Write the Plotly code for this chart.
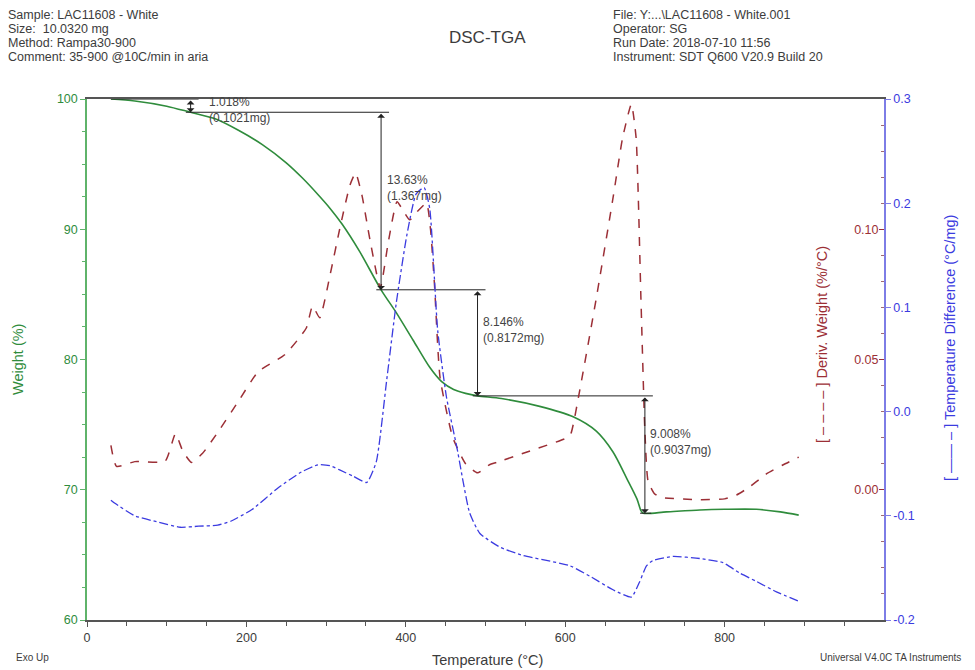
import plotly.graph_objects as go

# ---- TGA weight curve (green, left axis) ----
tga_temp = [30, 60, 100, 130, 160, 190, 220, 250, 270, 290, 305, 320, 342, 369, 388, 409,
            430, 445, 460, 475, 490, 520, 568, 610, 639, 660, 677, 690, 695, 698, 727,
            769, 800, 840, 870, 893]
tga_weight = [100.0, 99.85, 99.45, 98.98, 98.5, 97.6, 96.5, 95.1, 93.95, 92.65, 91.6, 90.4,
              88.3, 85.35, 83.6, 81.5, 79.4, 78.3, 77.7, 77.4, 77.21, 77.0, 76.4, 75.6,
              74.5, 72.9, 70.9, 69.3, 68.4, 68.2, 68.3, 68.45, 68.5, 68.5, 68.3, 68.05]

# ---- derivative weight (dark red dashed) ----
dtg_temp = [30, 37, 60, 98, 111, 120, 131, 145, 164, 190, 215, 248, 275, 283, 292, 305,
            317, 330, 337, 345, 355, 368, 378, 389, 397, 405, 415, 426, 431, 436, 443,
            459, 475, 490, 505, 514, 555, 601, 607, 618, 639, 660, 672, 683, 689, 695,
            700, 704, 712, 722, 769, 800, 815, 831, 852, 873, 893]
dtg_value = [0.0170, 0.0090, 0.0108, 0.0110, 0.0215, 0.0150, 0.0105, 0.0140, 0.0220,
             0.0340, 0.0454, 0.0518, 0.0620, 0.0705, 0.0660, 0.0825, 0.1000, 0.1170,
             0.1216, 0.1130, 0.0960, 0.0776, 0.0950, 0.1106, 0.1070, 0.1036, 0.1070,
             0.1100, 0.1000, 0.0787, 0.0430, 0.0200, 0.0100, 0.0065, 0.0096, 0.0105,
             0.0148, 0.0198, 0.0215, 0.0378, 0.0735, 0.1120, 0.1350, 0.1480, 0.1350,
             0.0735, 0.0224, 0.0033, -0.0015, -0.0030, -0.0038, -0.0035, -0.0020,
             0.0010, 0.0060, 0.0095, 0.0125]

# ---- temperature difference (blue dash-dot) ----
dta_temp = [30, 35, 60, 89, 117, 140, 164, 181, 207, 240, 269, 290, 305, 317, 334, 351,
            363, 376, 388, 401, 413, 423, 430, 440, 451, 464, 480, 493, 518, 547, 606,
            631, 660, 683, 693, 702, 710, 735, 769, 798, 819, 840, 865, 893]
dta_value = [-0.085, -0.088, -0.100, -0.106, -0.111, -0.110, -0.109, -0.105, -0.094,
             -0.073, -0.058, -0.051, -0.052, -0.056, -0.062, -0.068, -0.048, 0.030,
             0.104, 0.168, 0.209, 0.215, 0.195, 0.078, 0.014, -0.034, -0.097, -0.117,
             -0.130, -0.138, -0.148, -0.158, -0.171, -0.178, -0.164, -0.148, -0.143,
             -0.139, -0.141, -0.145, -0.155, -0.163, -0.173, -0.182]

# ---- weight-loss steps ----
step_temps = [130, 369, 490, 700]
step_levels = [100.0, 98.982, 85.352, 77.206, 68.198]
step_pct = ["1.018%", "13.63%", "8.146%", "9.008%"]
step_mg = ["(0.1021mg)", "(1.367mg)", "(0.8172mg)", "(0.9037mg)"]

x_ticks = [0, 200, 400, 600, 800, 1000]
w_ticks = [60, 70, 80, 90, 100]
d_ticks = [0.0, 0.05, 0.10]
d_labels = ["0.00", "0.05", "0.10"]
t_ticks = [-0.2, -0.1, 0.0, 0.1, 0.2, 0.3]
t_labels = ["-0.2", "-0.1", "0.0", "0.1", "0.2", "0.3"]

header_left = ["Sample: LAC11608 - White", "Size:  10.0320 mg", "Method: Rampa30-900",
               "Comment: 35-900 @10C/min in aria"]
header_right = ["File: Y:...\\LAC11608 - White.001", "Operator: SG",
                "Run Date: 2018-07-10 11:56", "Instrument: SDT Q600 V20.9 Build 20"]

GREEN = "#2f8c3c"
GREEN_AX = "#5fb36a"
RED = "#9c2f36"
BLUE = "#3b3be0"
BLUE_AX = "#7d7de6"
GREY = "#3c3c3c"
FONT = "Liberation Sans, Arial, sans-serif"

# the page body has an 8px margin, so the figure is drawn 8px in from the corner
OFF = 8
W, H = 975 - OFF, 670 - OFF
# plot area in window pixels
PL, PR, PT, PB = 87, 884, 99, 620


def px_x(px):
    return (px - PL) / (PR - PL)


def px_y(py):
    return (PB - py) / (PB - PT)


def text_at(x, y, txt, size=12.5, color=GREY, xanchor="left", angle=0):
    return dict(x=px_x(x), y=px_y(y), xref="paper", yref="paper", text=txt,
                showarrow=False, xanchor=xanchor, yanchor="middle", textangle=angle,
                font=dict(family=FONT, size=size, color=color))


def build_figure():
    fig = go.Figure()
    fig.add_trace(go.Scatter(x=tga_temp, y=tga_weight, mode="lines",
                             line=dict(color=GREEN, width=1.6, shape="spline", smoothing=0.8),
                             yaxis="y", hoverinfo="skip"))
    fig.add_trace(go.Scatter(x=dtg_temp, y=dtg_value, mode="lines",
                             line=dict(color=RED, width=1.5, dash="dash", shape="spline",
                                       smoothing=0.5),
                             yaxis="y2", hoverinfo="skip"))
    fig.add_trace(go.Scatter(x=dta_temp, y=dta_value, mode="lines",
                             line=dict(color=BLUE, width=1.3, dash="dashdot", shape="spline",
                                       smoothing=0.5),
                             yaxis="y3", hoverinfo="skip"))

    # horizontal level lines of the step analysis
    lx, ly = [], []
    n = len(step_levels)
    for k in range(n):
        left = tga_temp[0] if k == 0 else step_temps[k - 1] - 6
        right = step_temps[k] + 10 if k < n - 1 else step_temps[-1] + 8
        lx += [left, right, None]
        ly += [step_levels[k], step_levels[k], None]
    fig.add_trace(go.Scatter(x=lx, y=ly, mode="lines", line=dict(color="#222222", width=1),
                             yaxis="y", hoverinfo="skip", cliponaxis=False))

    ann = []
    xshift = [16, 4, 3, 3]
    yshift = [-4, 13, 13, 13]
    for i, t in enumerate(step_temps):
        a, b = step_levels[i], step_levels[i + 1]
        ann.append(dict(x=t, y=b, ax=t, ay=a, xref="x", yref="y", axref="x", ayref="y",
                        text="", showarrow=True, arrowside="end+start", arrowhead=1,
                        startarrowhead=1, arrowsize=1.3, arrowwidth=1, arrowcolor="#222222",
                        startarrowsize=1.3))
        ann.append(dict(x=t, y=(a + b) / 2, xref="x", yref="y", showarrow=False,
                        text=step_pct[i] + "<br>" + step_mg[i], align="left",
                        xanchor="left", yanchor="middle", xshift=xshift[i], yshift=yshift[i],
                        font=dict(family=FONT, size=12, color="#444444")))

    # header / footer texts
    for i, line in enumerate(header_left):
        ann.append(text_at(6, 14.5 + 14.3 * i, line))
    for i, line in enumerate(header_right):
        ann.append(text_at(611, 14.5 + 14.3 * i, line))
    ann.append(text_at(487, 37, "DSC-TGA", size=17, xanchor="center"))
    ann.append(text_at(14, 657, "Exo Up", size=10))
    ann.append(text_at(963, 657, "Universal V4.0C TA Instruments", size=10, xanchor="right"))
    ann.append(text_at(487, 660, "Temperature (°C)", size=14.5, xanchor="center"))
    ann.append(text_at(18, 360, "Weight (%)", size=14.5, color=GREEN, xanchor="center",
                       angle=-90))
    ann.append(text_at(822, 345, "[ – – – – ] Deriv. Weight (%/°C)", size=14.5, color=RED,
                       xanchor="center", angle=-90))
    ann.append(text_at(950, 348, "[ —— – ] Temperature Difference (°C/mg)", size=14.5,
                       color=BLUE, xanchor="center", angle=-90))

    fig.update_layout(
        width=W, height=H,
        margin=dict(l=PL - OFF, r=975 - PR, t=PT - OFF, b=670 - PB),
        paper_bgcolor="white", plot_bgcolor="white",
        showlegend=False,
        font=dict(family=FONT, size=12, color=GREY),
        annotations=ann,
        xaxis=dict(range=[0, 1000], tickvals=x_ticks, showgrid=False, zeroline=False,
                   showline=True, linecolor="#555555", linewidth=1.5, mirror=True,
                   ticks="outside", ticklen=5, tickcolor="#555555",
                   minor=dict(dtick=50, ticks="outside", ticklen=4, tickcolor="#555555"),
                   tickfont=dict(size=12.5, color=GREY)),
        yaxis=dict(range=[60, 100], tickvals=w_ticks, showgrid=False, zeroline=False,
                   showline=True, linecolor=GREEN_AX, linewidth=1.5,
                   ticks="outside", ticklen=5, tickcolor=GREEN_AX,
                   minor=dict(dtick=2.5, ticks="outside", ticklen=3, tickcolor=GREEN_AX),
                   tickfont=dict(size=12.5, color=GREEN)),
        yaxis2=dict(range=[-0.05, 0.15], overlaying="y", side="right", anchor="x",
                    tickvals=d_ticks, ticktext=d_labels, showgrid=False, zeroline=False,
                    showline=False, ticks="inside", ticklen=5, tickcolor=RED,
                    ticklabelposition="inside",
                    minor=dict(dtick=0.01, ticks="inside", ticklen=3, tickcolor="#a06a70"),
                    tickfont=dict(size=12.5, color=RED)),
        yaxis3=dict(range=[-0.2, 0.3], overlaying="y", side="right", anchor="x",
                    tickvals=t_ticks, ticktext=t_labels, showgrid=False, zeroline=False,
                    showline=True, linecolor=BLUE_AX, linewidth=1.5,
                    ticks="outside", ticklen=5, tickcolor=BLUE_AX,
                    tickfont=dict(size=12.5, color=BLUE)),
    )
    return fig


def main():
    fig = build_figure()
    fig.write_html("out.html")


if __name__ == "__main__":
    main()
